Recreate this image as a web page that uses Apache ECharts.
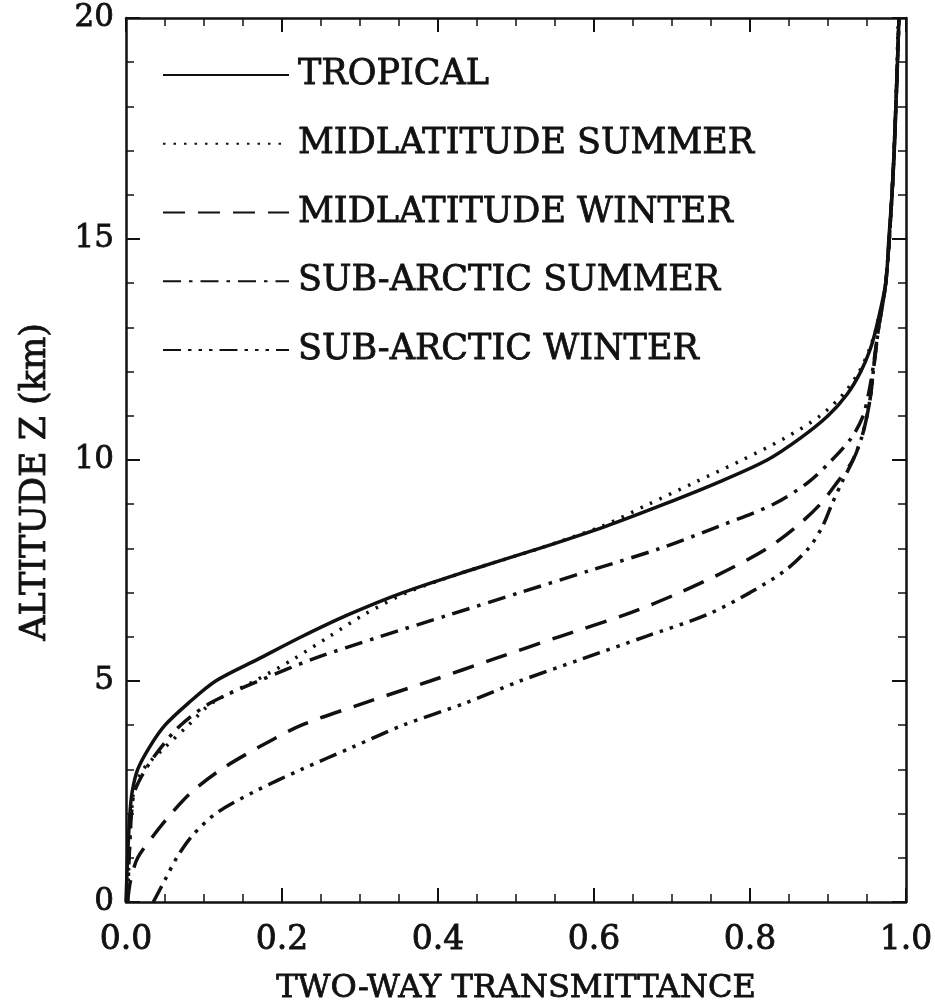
<!DOCTYPE html>
<html>
<head>
<meta charset="utf-8">
<script src="https://cdn.jsdelivr.net/npm/echarts@6/dist/echarts.min.js"></script>
<style>
html,body{margin:0;padding:0;background:#fff;}
#chart{width:935px;height:1000px;}
</style>
</head>
<body>
<div id="chart"></div>
<script>
// ---- data (altitude km, two-way transmittance) ----
const seriesNames = ['TROPICAL', 'MIDLATITUDE SUMMER', 'MIDLATITUDE WINTER', 'SUB-ARCTIC SUMMER', 'SUB-ARCTIC WINTER'];

const tropicalAlt   = [0, 1, 2, 2.5, 3, 3.5, 4, 4.5, 5, 5.5, 6, 6.5, 7, 7.5, 8, 8.5, 9, 9.5, 10, 10.5, 11, 11.5, 12, 12.5, 13, 14, 15, 16, 17, 18, 19, 20];
const tropicalTrans = [0.0, 0.002, 0.005, 0.008, 0.015, 0.03, 0.05, 0.08, 0.115, 0.17, 0.225, 0.285, 0.355, 0.44, 0.53, 0.615, 0.69, 0.76, 0.822, 0.865, 0.9, 0.925, 0.942, 0.954, 0.962, 0.974, 0.978, 0.982, 0.985, 0.987, 0.989, 0.991];

const midSumAlt   = [0, 1, 2, 2.5, 3, 3.5, 4, 4.5, 5, 5.5, 6, 6.5, 7, 7.5, 8, 8.5, 9, 9.5, 10, 10.5, 11, 11.5, 12, 12.5, 13, 14, 16, 18, 20];
const midSumTrans = [0.002, 0.004, 0.007, 0.01, 0.022, 0.05, 0.08, 0.11, 0.165, 0.215, 0.26, 0.305, 0.36, 0.44, 0.53, 0.61, 0.67, 0.73, 0.79, 0.845, 0.89, 0.92, 0.94, 0.953, 0.962, 0.974, 0.982, 0.987, 0.99];

const midWinAlt   = [0, 0.5, 1, 1.5, 2, 2.5, 3, 3.5, 4, 4.5, 5, 5.5, 6, 6.5, 7, 7.5, 8, 8.5, 9, 9.5, 10, 10.5, 11, 11.5, 12, 13, 14, 16, 18, 20];
const midWinTrans = [0.002, 0.006, 0.015, 0.035, 0.058, 0.085, 0.122, 0.17, 0.225, 0.305, 0.39, 0.472, 0.555, 0.64, 0.71, 0.77, 0.822, 0.86, 0.89, 0.912, 0.932, 0.943, 0.95, 0.955, 0.958, 0.965, 0.974, 0.982, 0.987, 0.991];

const subSumAlt   = [0, 1, 2, 2.5, 3, 3.5, 4, 4.5, 5, 5.5, 6, 6.5, 7, 7.5, 8, 8.5, 9, 9.5, 10, 10.5, 11, 11.5, 12, 13, 14, 16, 18, 20];
const subSumTrans = [0.002, 0.004, 0.007, 0.011, 0.025, 0.045, 0.07, 0.108, 0.17, 0.24, 0.325, 0.415, 0.505, 0.595, 0.685, 0.76, 0.83, 0.875, 0.905, 0.93, 0.945, 0.952, 0.957, 0.965, 0.974, 0.982, 0.987, 0.991];

const subWinAlt   = [0, 0.5, 1, 1.5, 2, 2.5, 3, 3.5, 4, 4.5, 5, 5.5, 6, 6.5, 7, 7.5, 8, 8.5, 9, 9.5, 10, 10.5, 11, 11.5, 12, 13, 14, 16, 18, 20];
const subWinTrans = [0.035, 0.05, 0.065, 0.085, 0.115, 0.165, 0.225, 0.29, 0.355, 0.435, 0.505, 0.585, 0.665, 0.745, 0.8, 0.845, 0.875, 0.893, 0.905, 0.918, 0.932, 0.943, 0.95, 0.955, 0.958, 0.965, 0.974, 0.982, 0.987, 0.991];

const xTicks = [0.0, 0.2, 0.4, 0.6, 0.8, 1.0];
const yTicks = [0, 5, 10, 15, 20];

// ---- build ----
const FONT = 'DejaVu Serif';
const INK = '#111';
const BOLDEN = { textBorderColor: INK, textBorderWidth: 0.8 };
function pairs(xs, ys) { return xs.map((x, i) => [x, ys[i]]); }

const dashes = [
  'solid',
  [2.5, 8],
  [22, 13],
  [18, 8, 3.5, 8],
  [18, 7, 3.5, 7, 3.5, 7, 3.5, 7]
];
const dataSets = [
  pairs(tropicalTrans, tropicalAlt),
  pairs(midSumTrans, midSumAlt),
  pairs(midWinTrans, midWinAlt),
  pairs(subSumTrans, subSumAlt),
  pairs(subWinTrans, subWinAlt)
];

const series = seriesNames.map((name, i) => ({
  name: name,
  type: 'line',
  xAxisIndex: 0,
  yAxisIndex: 0,
  data: dataSets[i],
  symbol: 'none',
  smooth: 0.3,
  lineStyle: { color: INK, width: 3.5, type: dashes[i] },
  itemStyle: { color: INK },
  emphasis: { disabled: true }
}));

const axisCommonX = {
  type: 'value', min: xTicks[0], max: xTicks[xTicks.length - 1], interval: 0.2,
  axisLine: { show: true, onZero: false, lineStyle: { color: INK, width: 2.5 } },
  axisTick: { show: true, inside: true, length: 14, lineStyle: { color: INK, width: 2 } },
  minorTick: { show: true, splitNumber: 4, length: 8, lineStyle: { color: INK, width: 1.5 } },
  splitLine: { show: false }
};
const axisCommonY = {
  type: 'value', min: yTicks[0], max: yTicks[yTicks.length - 1], interval: 5,
  axisLine: { show: true, onZero: false, lineStyle: { color: INK, width: 2.5 } },
  axisTick: { show: true, inside: true, length: 14, lineStyle: { color: INK, width: 2 } },
  minorTick: { show: true, splitNumber: 5, length: 8, lineStyle: { color: INK, width: 1.5 } },
  splitLine: { show: false }
};

const chart = echarts.init(document.getElementById('chart'), null, { renderer: 'canvas' });
chart.setOption({
  backgroundColor: '#fff',
  animation: false,
  grid: { left: 126, right: 29, top: 18, bottom: 98, containLabel: false, outerBoundsMode: 'none' },
  legend: {
    orient: 'vertical',
    left: 157,
    top: 52,
    itemWidth: 126,
    itemHeight: 14,
    itemGap: 33,
    data: seriesNames,
    selectedMode: false,
    itemStyle: { opacity: 0, borderWidth: 0 },
    textStyle: Object.assign({ fontFamily: FONT, fontSize: 35, lineHeight: 34, color: INK, padding: [0, 0, 0, 4] }, BOLDEN)
  },
  xAxis: [
    Object.assign({}, axisCommonX, {
      position: 'bottom',
      name: 'TWO-WAY TRANSMITTANCE',
      nameLocation: 'middle',
      nameGap: 71,
      nameTextStyle: Object.assign({ fontFamily: FONT, fontSize: 32, color: INK }, BOLDEN),
      axisLabel: Object.assign({ show: true, margin: 22, fontFamily: FONT, fontSize: 33, color: INK,
                   formatter: v => v.toFixed(1) }, BOLDEN)
    }),
    Object.assign({}, axisCommonX, {
      position: 'top',
      axisLabel: { show: false }
    })
  ],
  yAxis: [
    Object.assign({}, axisCommonY, {
      position: 'left',
      name: 'ALTITUDE Z (km)',
      nameLocation: 'middle',
      nameGap: 73,
      nameRotate: 90,
      nameTextStyle: Object.assign({ fontFamily: FONT, fontSize: 35, color: INK, padding: [0, 44, 0, 0] }, BOLDEN),
      axisLabel: Object.assign({ show: true, margin: 12, fontFamily: FONT, fontSize: 31, color: INK }, BOLDEN)
    }),
    Object.assign({}, axisCommonY, {
      position: 'right',
      axisLabel: { show: false }
    })
  ],
  series: series
});
</script>
</body>
</html>
